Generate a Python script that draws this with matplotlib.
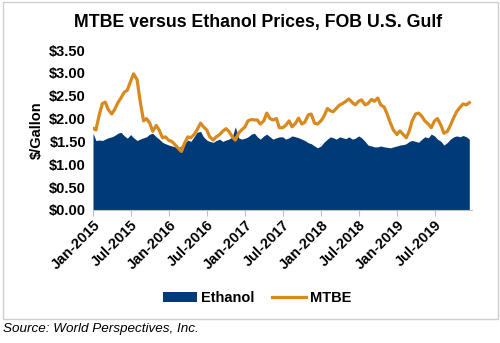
import matplotlib
matplotlib.use("Agg")
import matplotlib.pyplot as plt
from matplotlib.patches import Rectangle
import pandas as pd

plt.rcParams['font.family'] = ['Liberation Sans', 'DejaVu Sans']

# semi-monthly prices, $/gallon, Jan-2015 .. Dec-2019
dates = pd.date_range("2015-01-01", periods=120, freq="SMS")

mtbe = [1.79, 1.75, 2.10, 2.33, 2.36, 2.20, 2.10, 2.20, 2.35, 2.45,
        2.58, 2.62, 2.82, 2.98, 2.85, 2.40, 1.95, 2.00, 1.90, 1.72,
        1.85, 1.75, 1.58, 1.60, 1.52, 1.50, 1.42, 1.35, 1.28, 1.45,
        1.60, 1.58, 1.65, 1.75, 1.90, 1.82, 1.75, 1.60, 1.53, 1.60,
        1.65, 1.72, 1.78, 1.72, 1.60, 1.53, 1.68, 1.75, 1.82, 1.95,
        1.98, 1.97, 1.97, 1.88, 1.95, 2.12, 2.00, 1.97, 2.00, 1.80,
        1.80, 1.85, 1.95, 1.82, 1.90, 2.01, 1.88, 1.92, 2.08, 2.10,
        1.90, 1.88, 1.95, 2.05, 2.22, 2.17, 2.15, 2.22, 2.30, 2.33,
        2.38, 2.43, 2.35, 2.30, 2.38, 2.41, 2.30, 2.33, 2.42, 2.38,
        2.45, 2.30, 2.25, 2.10, 1.90, 1.75, 1.65, 1.73, 1.65, 1.58,
        1.72, 1.95, 2.10, 2.12, 2.05, 1.95, 1.88, 1.80, 1.95, 2.00,
        1.85, 1.68, 1.72, 1.85, 2.02, 2.15, 2.25, 2.32, 2.30, 2.35]

ethanol = [1.68, 1.52, 1.53, 1.52, 1.55, 1.58, 1.60, 1.63, 1.68, 1.70,
           1.62, 1.57, 1.65, 1.58, 1.52, 1.55, 1.58, 1.60, 1.66, 1.68,
           1.60, 1.55, 1.48, 1.45, 1.42, 1.40, 1.38, 1.36, 1.40, 1.45,
           1.53, 1.50, 1.60, 1.70, 1.72, 1.60, 1.53, 1.50, 1.48, 1.52,
           1.55, 1.50, 1.53, 1.55, 1.60, 1.82, 1.58, 1.55, 1.57, 1.60,
           1.66, 1.68, 1.60, 1.55, 1.62, 1.66, 1.60, 1.55, 1.58, 1.60,
           1.60, 1.55, 1.58, 1.62, 1.60, 1.58, 1.55, 1.52, 1.47, 1.45,
           1.40, 1.36, 1.40, 1.48, 1.55, 1.60, 1.58, 1.55, 1.60, 1.58,
           1.56, 1.60, 1.55, 1.57, 1.62, 1.58, 1.50, 1.42, 1.40, 1.38,
           1.38, 1.40, 1.38, 1.37, 1.36, 1.38, 1.40, 1.42, 1.43, 1.45,
           1.50, 1.52, 1.50, 1.48, 1.55, 1.60, 1.58, 1.66, 1.62, 1.55,
           1.50, 1.42, 1.48, 1.55, 1.60, 1.62, 1.60, 1.63, 1.60, 1.55]

blue = "#003B78"
orange = "#D98A1E"
fs = 10.5

fig = plt.figure(figsize=(5, 3.43), dpi=100)
ax = fig.add_axes([0.186, 0.388, 0.758, 0.466])

ax.fill_between(dates, ethanol, 0, color=blue, lw=0, label="Ethanol")
ax.plot(dates, mtbe, color=orange, lw=2.3, label="MTBE")

ax.set_ylim(0, 3.5)
ax.set_yticks([0, 0.5, 1, 1.5, 2, 2.5, 3, 3.5])
ax.set_yticklabels([f"${v:.2f}" for v in ax.get_yticks()])
ax.set_xlim(pd.Timestamp("2015-01-01"), pd.Timestamp("2019-12-28"))
ticks = pd.date_range("2015-01-01", "2019-07-01", freq="6MS")
ax.set_xticks(ticks)
ax.set_xticklabels([t.strftime("%b-%Y") for t in ticks], rotation=45,
                   ha="right", rotation_mode="anchor")

for s in ["top", "right", "left"]:
    ax.spines[s].set_visible(False)
ax.spines["bottom"].set_color("#BFBFBF")
ax.tick_params(axis="y", length=0, pad=5)
ax.tick_params(axis="x", length=4, color="#BFBFBF", pad=2)
for lab in ax.get_xticklabels() + ax.get_yticklabels():
    lab.set_fontsize(fs)
    lab.set_fontweight("bold")

ax.set_ylabel("$/Gallon", fontsize=fs, fontweight="bold", labelpad=4)
fig.text(0.516, 0.935, "MTBE versus Ethanol Prices, FOB U.S. Gulf",
         ha="center", va="center", fontsize=12.8, fontweight="bold")

fig.legend(loc="center", bbox_to_anchor=(0.515, 0.131), ncol=2, frameon=False,
           prop={"size": fs, "weight": "bold"}, handlelength=2.3,
           handletextpad=0.3, columnspacing=1.2)

fig.patches.append(Rectangle((0.005, 0.07), 0.99, 0.925, transform=fig.transFigure,
                             fill=False, ec="#D0D0D0", lw=1))
fig.text(0.006, 0.04, "Source: World Perspectives, Inc.", fontsize=9.7,
         style="italic", va="center")

fig.savefig("out.png", dpi=100)
